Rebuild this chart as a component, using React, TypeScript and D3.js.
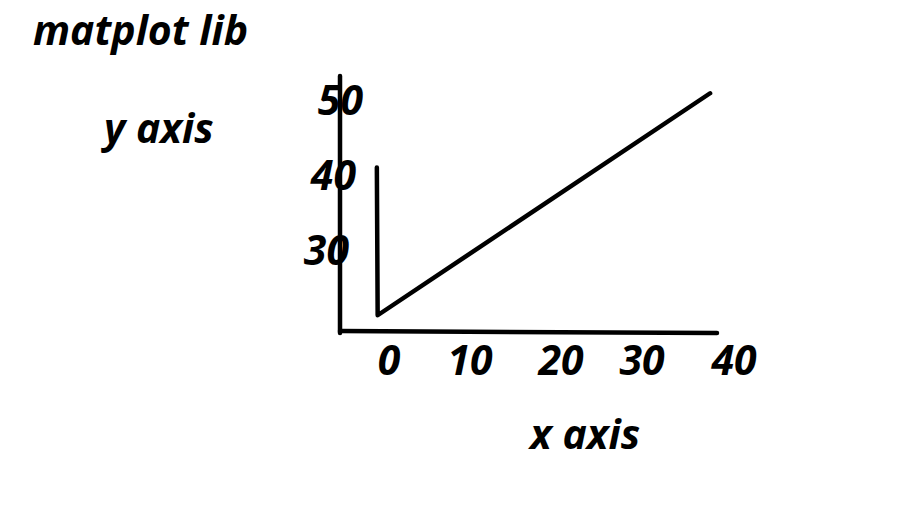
import React from "react";
import * as d3 from "d3";

// hand-sketched chart: values
const title = "matplot lib";
const xLabel = "x axis";
const yLabel = "y axis";
const xTicks = [0, 10, 20, 30, 40];
const yTicks = [30, 40, 50];
const lineX = [-1.5, -1.4, 37.4];
const lineY = [41, 21.3, 50.9];

const width = 920;
const height = 510;
const font = "'Open Sans', sans-serif";
const fs = 41;

const App: React.FC = () => {
  // the sketch's tick spacing is uneven, so map each tick where it was drawn
  const x = d3.scaleLinear().domain(xTicks).range([389, 470, 561, 642, 734]);
  const y = d3.scaleLinear().domain([30, 50]).range([250, 100]);

  const points: [number, number][] = lineX.map((d, i) => [d, lineY[i]]);
  const line = d3
    .line<[number, number]>()
    .x((d) => x(d[0]))
    .y((d) => y(d[1]));

  return (
    <svg
      width={width}
      height={height}
      style={{ position: "absolute", left: 0, top: 0, background: "#fff" }}
      fontFamily={font}
      fontWeight={700}
      fontStyle="italic"
    >
      <text x={33} y={45} fontSize={fs}>
        {title}
      </text>
      <text x={104} y={143} fontSize={fs}>
        {yLabel}
      </text>
      <text x={530} y={449} fontSize={fs}>
        {xLabel}
      </text>

      {/* axes frame */}
      <line x1={340} y1={76} x2={340} y2={333} stroke="#000" strokeWidth={4.5} strokeLinecap="round" />
      <line x1={340} y1={331} x2={717} y2={333} stroke="#000" strokeWidth={4.5} strokeLinecap="round" />

      {yTicks.map((t) => (
        <text
          key={t}
          x={363 - (50 - t) * 0.7}
          y={y(t)}
          dy="0.36em"
          textAnchor="end"
          fontSize={fs}
        >
          {t}
        </text>
      ))}
      {xTicks.map((t) => (
        <text key={t} x={x(t)} y={375} textAnchor="middle" fontSize={fs}>
          {t}
        </text>
      ))}

      <path
        d={line(points) ?? ""}
        fill="none"
        stroke="#000"
        strokeWidth={4.5}
        strokeLinejoin="round"
        strokeLinecap="round"
      />
    </svg>
  );
};

export default App;
